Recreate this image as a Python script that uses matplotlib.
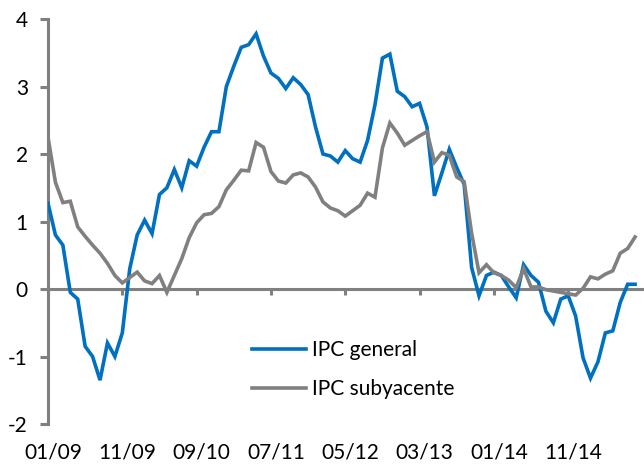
import matplotlib
matplotlib.use("Agg")
import matplotlib.pyplot as plt
import matplotlib.transforms as mtransforms
import numpy as np

plt.rcParams['font.family'] = ['Lato', 'DejaVu Sans']

tick_labels = ["01/09", "11/09", "09/10", "07/11", "05/12", "03/13", "01/14", "11/14"]

ipc_general = [
    1.27, 0.80, 0.65, -0.05, -0.15, -0.85, -1.00, -1.35, -0.80, -1.00,
    -0.65, 0.30, 0.80, 1.02, 0.82, 1.40, 1.50, 1.77, 1.50, 1.90,
    1.82, 2.10, 2.33, 2.33, 3.00, 3.30, 3.58, 3.62, 3.78, 3.45,
    3.20, 3.12, 2.97, 3.13, 3.03, 2.88, 2.40, 2.00, 1.97, 1.88,
    2.05, 1.93, 1.88, 2.20, 2.73, 3.42, 3.48, 2.93, 2.85, 2.70,
    2.75, 2.40, 1.38, 1.72, 2.07, 1.80, 1.55, 0.32, -0.10, 0.20,
    0.25, 0.20, 0.03, -0.13, 0.36, 0.20, 0.10, -0.33, -0.50, -0.15,
    -0.10, -0.40, -1.02, -1.32, -1.08, -0.65, -0.62, -0.20, 0.07, 0.07,
]

ipc_subyacente = [
    2.25, 1.58, 1.28, 1.30, 0.92, 0.78, 0.65, 0.53, 0.38, 0.20,
    0.09, 0.17, 0.25, 0.12, 0.08, 0.20, -0.05, 0.20, 0.45, 0.76,
    0.98, 1.10, 1.12, 1.22, 1.47, 1.61, 1.76, 1.75, 2.17, 2.10,
    1.74, 1.60, 1.57, 1.69, 1.72, 1.66, 1.51, 1.29, 1.20, 1.16,
    1.08, 1.16, 1.24, 1.42, 1.36, 2.09, 2.46, 2.31, 2.13, 2.20,
    2.27, 2.33, 1.88, 2.02, 1.98, 1.66, 1.59, 0.83, 0.24, 0.36,
    0.24, 0.20, 0.13, 0.02, 0.30, 0.03, 0.03, -0.01, -0.03, -0.05,
    -0.07, -0.09, 0.01, 0.18, 0.15, 0.22, 0.27, 0.53, 0.60, 0.77,
]

x = np.arange(len(ipc_general))
BLUE = "#0070C0"
GREY = "#808080"

fig = plt.figure(figsize=(6.44, 4.69), dpi=100)
ax = fig.add_axes([48/644, 45/469, 596/644, 405/469])

ax.plot(x, ipc_general, color=BLUE, lw=2.6, label="IPC general", solid_joinstyle='miter', zorder=3)
ax.plot(x, ipc_subyacente, color=GREY, lw=2.6, label="IPC subyacente", solid_joinstyle='miter', zorder=3)

ax.set_xlim(0, 80.2)
ax.set_ylim(-2, 4)

for s in ['top', 'right']:
    ax.spines[s].set_visible(False)
ax.spines['bottom'].set_position(('data', 0))
for s in ['left', 'bottom']:
    ax.spines[s].set_color(GREY)
    ax.spines[s].set_linewidth(2.2)
    ax.spines[s].set_zorder(2)

ax.set_yticks(range(-2, 5))
ax.set_yticklabels([str(v) for v in range(-2, 5)])
ax.set_xticks(np.arange(0, 80, 10))
ax.set_xticklabels(tick_labels)

ax.tick_params(axis='y', direction='out', length=5.5, width=2.2, color=GREY,
               labelsize=15, pad=9, labelcolor='black')
ax.tick_params(axis='x', direction='out', length=4.5, width=2.2, color=GREY,
               labelsize=15, pad=106, labelcolor='black')

offset = mtransforms.ScaledTranslation(5/100, 0, fig.dpi_scale_trans)
for lab in ax.get_xticklabels():
    lab.set_transform(lab.get_transform() + offset)

leg = ax.legend(loc='upper left', bbox_to_anchor=(0.343, 0.207), frameon=False,
                fontsize=15, handlelength=2.55, handletextpad=0.3,
                labelspacing=0.92, borderpad=0, borderaxespad=0)

fig.savefig("out.png", dpi=100)
